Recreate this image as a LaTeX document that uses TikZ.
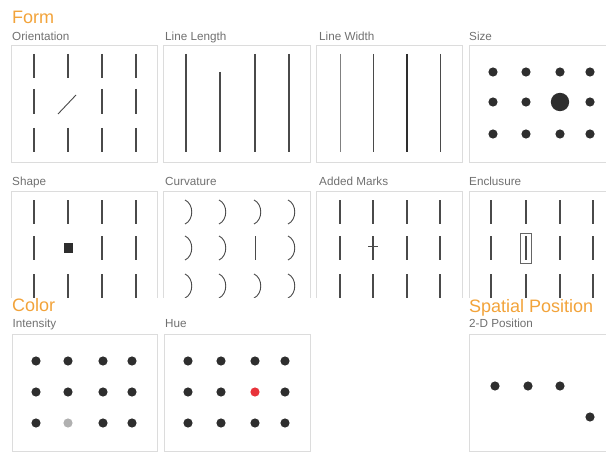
\documentclass[tikz,border=0pt]{standalone}
\usepackage{fontspec}
\setmainfont{Liberation Sans}
\definecolor{headorange}{HTML}{F2A33A}
\definecolor{labelgray}{HTML}{707070}
\definecolor{framegray}{HTML}{DCDCDC}
\definecolor{markgray}{HTML}{4A4A4A}
\definecolor{dotdark}{HTML}{2E2E2E}
\definecolor{dotlight}{HTML}{B0B0B0}
\definecolor{huered}{HTML}{E8333A}

\begin{document}
\begin{tikzpicture}[x=1pt, y=-1pt,
    panel/.style={draw=framegray, line width=0.9pt},
    bar/.style={draw=markgray, line width=1.3pt},
    thinbar/.style={draw=markgray, line width=0.9pt},
    dot/.style={fill=dotdark},
    head/.style={font=\fontsize{18}{20}\selectfont, text=headorange, anchor=base west, inner sep=0pt},
    sub/.style={font=\fontsize{11.7}{14}\selectfont, text=labelgray, anchor=base west, inner sep=0pt}
]
\useasboundingbox (0,0) rectangle (606,452);
\clip (0,0) rectangle (606,452);

% headings and panel labels
\node[head] (form) at (12,24) {Form};
\node[sub] (orient) at (12,41) {Orientation};
\node[sub] (length) at (165,41) {Line Length};
\node[sub] (width) at (319,41) {Line Width};
\node[sub] (size) at (469,41) {Size};
\node[sub] (shape) at (12,185.5) {Shape};
\node[sub] (curv) at (165,185.5) {Curvature};
\node[sub] (marks) at (319,185.5) {Added Marks};
\node[sub] (encl) at (469,185.5) {Enclusure};
\node[head] (color) at (12,311) {Color};
\node[sub] (intens) at (12.5,327.5) {Intensity};
\node[sub] (hue) at (165,327.5) {Hue};
\node[head] (spatial) at (469,312) {Spatial Position};
\node[sub] (twod) at (469,327) {2-D Position};

% row 1: Orientation
\draw[panel] (11,45) rectangle ++(146,117);
\begin{scope}[shift={(11,45)}]
  \foreach \c in {23,57,91,125} {
    \draw[bar] (\c,9) -- (\c,33);
    \draw[bar] (\c,83) -- (\c,107);
  }
  \foreach \c in {23,91,125} \draw[bar] (\c,44) -- (\c,69);
  \draw[thinbar] (47,69) -- (65,50);
\end{scope}

% row 1: Line Length
\draw[panel] (163,45) rectangle ++(147,117);
\begin{scope}[shift={(163,45)}]
  \foreach \c in {23,92,126} \draw[bar] (\c,9) -- (\c,107);
  \draw[bar] (57,27) -- (57,107);
\end{scope}

% row 1: Line Width
\draw[panel] (316,45) rectangle ++(146,117);
\begin{scope}[shift={(316,45)}]
  \draw[draw=gray, line width=1pt] (24,9) -- (24,107);
  \draw[thinbar] (57,9) -- (57,107);
  \draw[draw=dotdark, line width=2.3pt] (91,9) -- (91,107);
  \draw[thinbar] (124,9) -- (124,107);
\end{scope}

% row 1: Size
\draw[panel] (469,45) rectangle ++(146,117);
\begin{scope}[shift={(469,45)}]
  \foreach \c in {24,57,91,121} {
    \fill[dot] (\c,27) circle (4.6);
    \fill[dot] (\c,89) circle (4.6);
  }
  \foreach \c in {24,57,121} \fill[dot] (\c,57) circle (4.6);
  \fill[dot] (91,57) circle (9.2);
\end{scope}

% row 2, cut off below
\begin{scope}
\clip (0,0) rectangle (606,297);

% Shape
\draw[panel] (11,191) rectangle ++(146,117);
\begin{scope}[shift={(11,191)}]
  \foreach \c in {23,57,91,125} {
    \draw[bar] (\c,9) -- (\c,33);
    \draw[bar] (\c,83) -- (\c,107);
  }
  \foreach \c in {23,91,125} \draw[bar] (\c,45) -- (\c,69);
  \fill[dotdark] (52.5,52) rectangle ++(9.5,9.5);
\end{scope}

% Curvature
\draw[panel] (163,191) rectangle ++(147,117);
\begin{scope}[shift={(163,191)}]
  \foreach \c in {22,56,91,125} {
    \draw[thinbar] (\c,9) .. controls (\c+9,13) and (\c+9,29) .. (\c,33);
    \draw[thinbar] (\c,83) .. controls (\c+9,87) and (\c+9,103) .. (\c,107);
  }
  \foreach \c in {22,56,125}
    \draw[thinbar] (\c,45) .. controls (\c+9,49) and (\c+9,65) .. (\c,69);
  \draw[thinbar] (92,45) -- (92,69);
\end{scope}

% Added Marks
\draw[panel] (316,191) rectangle ++(146,117);
\begin{scope}[shift={(316,191)}]
  \foreach \c in {24,57,91,124} {
    \draw[bar] (\c,9) -- (\c,33);
    \draw[bar] (\c,45) -- (\c,69);
    \draw[bar] (\c,83) -- (\c,107);
  }
  \draw[thinbar] (52,55) -- (62,55);
\end{scope}

% Enclusure
\draw[panel] (469,191) rectangle ++(146,117);
\begin{scope}[shift={(469,191)}]
  \foreach \c in {22,57,91,124} {
    \draw[bar] (\c,9) -- (\c,33);
    \draw[bar] (\c,45) -- (\c,69);
    \draw[bar] (\c,83) -- (\c,107);
  }
  \draw[draw=markgray!85, line width=0.9pt] (51.5,42) rectangle (62,72);
\end{scope}
\end{scope}

% row 3: Intensity
\draw[panel] (12,334) rectangle ++(145,117);
\begin{scope}[shift={(12,334)}]
  \foreach \c in {24,56,91,120} {
    \fill[dot] (\c,27) circle (4.6);
    \fill[dot] (\c,58) circle (4.6);
  }
  \foreach \c in {24,91,120} \fill[dot] (\c,89) circle (4.6);
  \fill[dotlight] (56,89) circle (4.6);
\end{scope}

% row 3: Hue
\draw[panel] (164,334) rectangle ++(146,117);
\begin{scope}[shift={(164,334)}]
  \foreach \c in {24,57,91,121} {
    \fill[dot] (\c,27) circle (4.6);
    \fill[dot] (\c,89) circle (4.6);
  }
  \foreach \c in {24,57,121} \fill[dot] (\c,58) circle (4.6);
  \fill[huered] (91,58) circle (4.6);
\end{scope}

% row 3: 2-D Position
\draw[panel] (469,334) rectangle ++(146,117);
\begin{scope}[shift={(469,334)}]
  \foreach \c in {26,59,91} \fill[dot] (\c,52) circle (4.6);
  \fill[dot] (121,83) circle (4.6);
\end{scope}
\end{tikzpicture}
\end{document}
